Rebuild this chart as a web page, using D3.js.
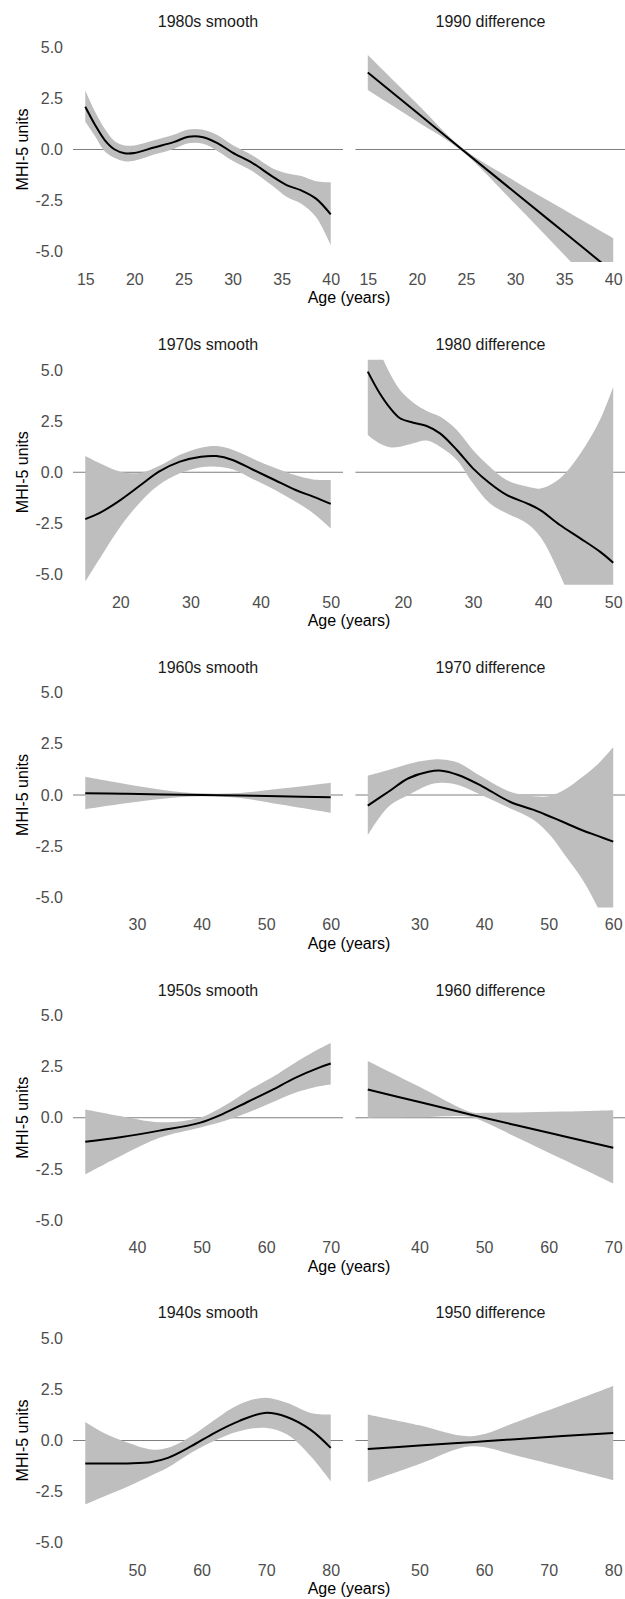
<!DOCTYPE html>
<html>
<head>
<meta charset="utf-8">
<script src="https://cdn.jsdelivr.net/npm/d3@7"></script>
<style>
  body { margin: 0; background: #fff; }
  text { font-family: "Liberation Sans", Arial, sans-serif; }
</style>
</head>
<body>
<script>
// panel titles, row by row (left = smooth, right = difference)
const titles = [
  ["1980s smooth", "1990 difference"],
  ["1970s smooth", "1980 difference"],
  ["1960s smooth", "1970 difference"],
  ["1950s smooth", "1960 difference"],
  ["1940s smooth", "1950 difference"]
];
const rowDomains = [[15, 40], [15, 50], [22, 60], [32, 70], [42, 80]];
const rowTicks = [
  [15, 20, 25, 30, 35, 40],
  [20, 30, 40, 50],
  [30, 40, 50, 60],
  [40, 50, 60, 70],
  [50, 60, 70, 80]
];
const yTicks = [-5, -2.5, 0, 2.5, 5];

// 1980s smooth
const s1980Age = [15, 16, 17, 18, 19, 20, 22, 24, 25.5, 27, 28.5, 30, 32, 34, 35.5, 37, 38.5, 40];
const s1980Fit = [2.09, 1.2, 0.45, 0.0, -0.18, -0.17, 0.1, 0.36, 0.62, 0.6, 0.3, -0.15, -0.65, -1.3, -1.74, -2.0, -2.4, -3.17];
const s1980Hi  = [2.88, 1.85, 1.0, 0.4, 0.2, 0.2, 0.45, 0.72, 0.98, 0.97, 0.7, 0.22, -0.28, -0.9, -1.16, -1.3, -1.55, -1.6];
const s1980Lo  = [1.36, 0.65, -0.1, -0.42, -0.58, -0.55, -0.25, 0.03, 0.3, 0.28, -0.08, -0.55, -1.05, -1.75, -2.31, -2.65, -3.3, -4.67];

// 1990 difference
const d1990Age = [15, 20, 24.6, 30, 35, 40];
const d1990Fit = [3.76, 1.81, 0.0, -2.1, -4.05, -6.0];
const d1990Hi  = [4.62, 2.25, 0.08, -1.55, -2.95, -4.34];
const d1990Lo  = [2.91, 1.38, -0.08, -2.65, -5.15, -7.65];

// 1970s smooth
const s1970Age = [15, 17, 20, 23, 25.5, 28.5, 31.5, 33.7, 36, 39, 42, 45, 47.5, 50];
const s1970Fit = [-2.29, -2.0, -1.36, -0.6, 0.03, 0.52, 0.76, 0.79, 0.6, 0.11, -0.38, -0.87, -1.19, -1.55];
const s1970Hi  = [0.79, 0.45, 0.03, -0.02, 0.3, 0.85, 1.2, 1.28, 1.1, 0.65, 0.22, -0.15, -0.35, -0.38];
const s1970Lo  = [-5.35, -4.25, -2.66, -1.4, -0.62, -0.05, 0.25, 0.27, 0.15, -0.35, -0.85, -1.44, -2.0, -2.74];

// 1980 difference
const d1980Age = [15, 16.7, 18.2, 19.6, 21.5, 23.4, 25.3, 27.7, 30, 32.4, 34.8, 37.7, 39.6, 42.4, 45.3, 48.1, 50];
const d1980Fit = [4.92, 3.86, 3.13, 2.64, 2.42, 2.26, 1.9, 1.09, 0.19, -0.54, -1.11, -1.52, -1.85, -2.58, -3.23, -3.88, -4.42];
const d1980Hi  = [6.8, 5.85, 4.8, 4.02, 3.4, 3.0, 2.72, 2.07, 1.09, 0.27, -0.38, -0.7, -0.79, -0.3, 0.9, 2.55, 4.18];
const d1980Lo  = [1.82, 1.4, 1.22, 1.25, 1.42, 1.55, 1.25, 0.6, -0.54, -1.52, -2.01, -2.5, -3.15, -5.0, -7.5, -10, -12];

// 1960s smooth
const s1960Age = [22, 28, 34, 40, 46, 52, 60];
const s1960Fit = [0.08, 0.06, 0.03, 0.0, -0.03, -0.06, -0.11];
const s1960Hi  = [0.89, 0.55, 0.25, 0.08, 0.1, 0.3, 0.6];
const s1960Lo  = [-0.7, -0.42, -0.18, -0.06, -0.15, -0.45, -0.87];

// 1970 difference
const d1970Age = [22, 25.2, 28.3, 31.4, 33.4, 36, 39.6, 44, 47.7, 50.2, 52.7, 55.1, 57.6, 60];
const d1970Fit = [-0.52, 0.16, 0.82, 1.14, 1.19, 0.98, 0.45, -0.33, -0.73, -1.05, -1.38, -1.71, -2.0, -2.28];
const d1970Hi  = [0.94, 1.22, 1.52, 1.71, 1.74, 1.58, 0.9, 0.16, -0.06, -0.05, 0.3, 0.85, 1.5, 2.33];
const d1970Lo  = [-1.96, -0.57, 0.0, 0.49, 0.6, 0.49, 0.0, -0.65, -1.22, -1.96, -3.02, -4.07, -5.5, -7.2];

// 1950s smooth
const s1950Age = [32, 37.4, 43.5, 49.7, 53.4, 57.1, 60.8, 64.5, 68.2, 70];
const s1950Fit = [-1.17, -0.95, -0.63, -0.25, 0.2, 0.77, 1.34, 1.95, 2.45, 2.65];
const s1950Hi  = [0.4, 0.08, -0.22, 0.0, 0.56, 1.3, 1.95, 2.69, 3.37, 3.66];
const s1950Lo  = [-2.77, -1.88, -0.98, -0.49, -0.17, 0.24, 0.73, 1.22, 1.54, 1.63];

// 1960 difference
const d1960Age = [32, 40, 48, 50, 55, 62, 70];
const d1960Fit = [1.38, 0.77, 0.15, 0.0, -0.37, -0.88, -1.47];
const d1960Hi  = [2.77, 1.51, 0.27, 0.25, 0.26, 0.3, 0.37];
const d1960Lo  = [0.0, 0.02, 0.04, -0.2, -0.95, -2.0, -3.21];

// 1940s smooth
const s1940Age = [42, 44.8, 48.6, 52.3, 54.8, 58.4, 62.1, 65.8, 69.8, 73.2, 76.9, 80];
const s1940Fit = [-1.12, -1.13, -1.12, -1.05, -0.85, -0.28, 0.39, 0.95, 1.35, 1.15, 0.52, -0.36];
const s1940Hi  = [0.9, 0.38, -0.11, -0.44, -0.36, 0.21, 1.03, 1.76, 2.09, 1.84, 1.35, 1.27];
const s1940Lo  = [-3.13, -2.75, -2.25, -1.7, -1.32, -0.6, 0.0, 0.45, 0.62, 0.3, -0.77, -1.99];

// 1950 difference
const d1950Age = [42, 50, 58, 66, 80];
const d1950Fit = [-0.41, -0.25, -0.08, 0.09, 0.37];
const d1950Hi  = [1.27, 0.74, 0.21, 1.02, 2.66];
const d1950Lo  = [-2.04, -1.15, -0.28, -0.82, -1.94];

const panelData = [
  [[s1980Age, s1980Fit, s1980Lo, s1980Hi], [d1990Age, d1990Fit, d1990Lo, d1990Hi]],
  [[s1970Age, s1970Fit, s1970Lo, s1970Hi], [d1980Age, d1980Fit, d1980Lo, d1980Hi]],
  [[s1960Age, s1960Fit, s1960Lo, s1960Hi], [d1970Age, d1970Fit, d1970Lo, d1970Hi]],
  [[s1950Age, s1950Fit, s1950Lo, s1950Hi], [d1960Age, d1960Fit, d1960Lo, d1960Hi]],
  [[s1940Age, s1940Fit, s1940Lo, s1940Hi], [d1950Age, d1950Fit, d1950Lo, d1950Hi]]
];

const width = 625, height = 1599;
const rowStep = 322.75, panelTop = 37, panelH = 225, panelW = 270;
const colX = [73, 355.5];

const svg = d3.select('body').append('svg')
    .attr('width', width)
    .attr('height', height);

const y = d3.scaleLinear().domain([-5.5, 5.5]).range([panelH, 0]);
const curve = d3.curveCatmullRom.alpha(0.5);

titles.forEach((pair, r) => {
  const rowY = r * rowStep;
  const [d0, d1] = rowDomains[r];
  const pad = (d1 - d0) * 0.05;
  const x = d3.scaleLinear().domain([d0 - pad, d1 + pad]).range([0, panelW]);

  pair.forEach((title, c) => {
    const g = svg.append('g')
        .attr('transform', `translate(${colX[c]},${rowY + panelTop})`);
    const clipId = `clip-${r}-${c}`;
    g.append('clipPath').attr('id', clipId)
      .append('rect').attr('width', panelW).attr('height', panelH);

    const [age, fit, lo, hi] = panelData[r][c];
    const pts = age.map((a, i) => ({age: a, fit: fit[i], lo: lo[i], hi: hi[i]}));

    // zero reference line, sits under the ribbon
    g.append('line')
        .attr('x1', 0).attr('x2', panelW)
        .attr('y1', y(0)).attr('y2', y(0))
        .attr('stroke', '#7f7f7f')
        .attr('stroke-width', 1);

    const body = g.append('g').attr('clip-path', `url(#${clipId})`);
    body.append('path')
        .datum(pts)
        .attr('fill', '#bebebe')
        .attr('d', d3.area()
          .x(d => x(d.age)).y0(d => y(d.lo)).y1(d => y(d.hi))
          .curve(curve));
    body.append('path')
        .datum(pts)
        .attr('fill', 'none')
        .attr('stroke', '#000')
        .attr('stroke-width', 2)
        .attr('d', d3.line()
          .x(d => x(d.age)).y(d => y(d.fit))
          .curve(curve));

    g.append('text')
        .attr('x', panelW / 2)
        .attr('y', 27.3 - panelTop)
        .attr('text-anchor', 'middle')
        .attr('font-size', 16)
        .attr('fill', '#1a1a1a')
        .text(title);

    const xAxis = g.append('g')
        .attr('transform', `translate(0,${panelH})`)
        .call(d3.axisBottom(x).tickValues(rowTicks[r]).tickSize(0).tickPadding(11.6)
          .tickFormat(d3.format('d')));
    xAxis.select('.domain').remove();
    xAxis.attr('font-family', null).attr('font-size', 16);
    xAxis.selectAll('text').attr('fill', '#4d4d4d');

    if (c === 0) {
      const yAxis = g.append('g')
          .call(d3.axisLeft(y).tickValues(yTicks).tickSize(0).tickPadding(10)
            .tickFormat(d => d.toFixed(1)));
      yAxis.select('.domain').remove();
      yAxis.attr('font-family', null).attr('font-size', 16);
      yAxis.selectAll('text').attr('fill', '#4d4d4d');
    }
  });

  svg.append('text')
      .attr('x', 349)
      .attr('y', rowY + 303.3)
      .attr('text-anchor', 'middle')
      .attr('font-size', 16)
      .attr('fill', '#000')
      .text('Age (years)');

  svg.append('text')
      .attr('transform', `translate(27.5,${rowY + panelTop + panelH / 2}) rotate(-90)`)
      .attr('text-anchor', 'middle')
      .attr('font-size', 16)
      .attr('fill', '#000')
      .text('MHI-5 units');
});
</script>
</body>
</html>
